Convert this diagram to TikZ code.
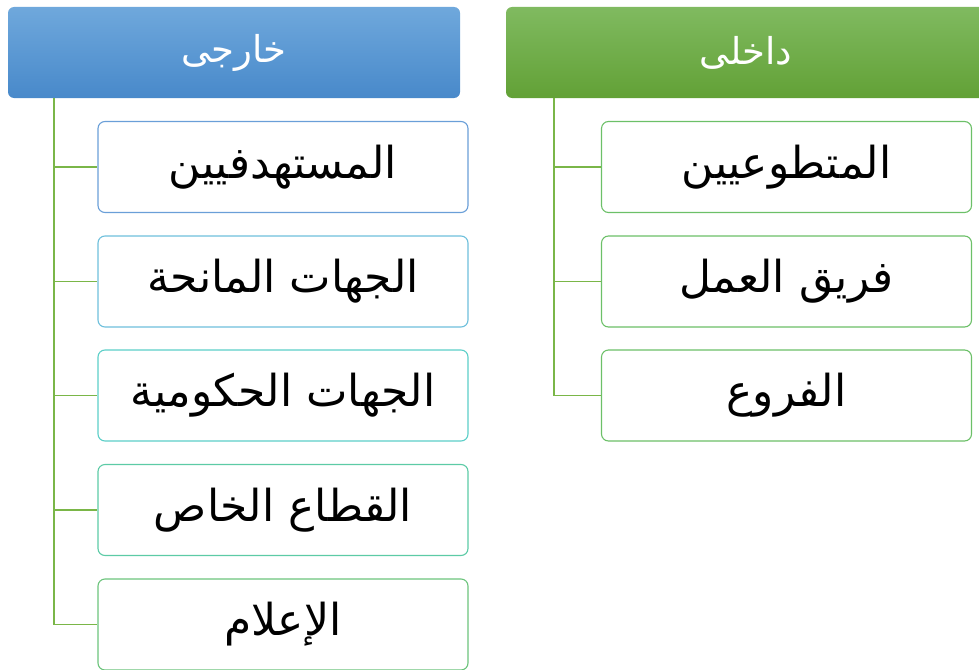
\documentclass[tikz,border=0pt]{standalone}
\usepackage{fontspec}
\newfontfamily\arabicfont[Script=Arabic]{DejaVu Sans}
\TeXXeTstate=1
\definecolor{blueTop}{HTML}{6FA8DC}
\definecolor{blueBot}{HTML}{4889CA}
\definecolor{greenTop}{HTML}{80BA60}
\definecolor{greenBot}{HTML}{62A136}
\definecolor{branchGreen}{HTML}{7AB648}
\definecolor{rimA}{HTML}{6A9FD8}
\definecolor{rimB}{HTML}{6EC0DC}
\definecolor{rimC}{HTML}{5CCFC8}
\definecolor{rimD}{HTML}{5CCBA6}
\definecolor{rimE}{HTML}{6CC47C}
\definecolor{rimF}{HTML}{6CC068}
\usetikzlibrary{positioning}

\begin{document}
\begin{tikzpicture}[x=1pt, y=-1pt,
    head/.style={rounded corners=6pt, minimum height=91pt, inner sep=0pt,
      text=white, font=\arabicfont\fontsize{37}{42}\selectfont},
    item/.style={draw, rounded corners=7pt, line width=1.1pt, fill=white,
      minimum width=370pt, minimum height=91pt, inner sep=0pt,
      font=\arabicfont\fontsize{44}{50}\selectfont},
    branch/.style={draw=branchGreen, line width=1.5pt}
  ]
  \useasboundingbox (0,0) rectangle (979,669);

  % external
  \node[head, minimum width=452pt, top color=blueTop, bottom color=blueBot]
    (ext) at (234,52.5) {\beginR خارجى\endR};
  \node[item, draw=rimA] (e1) at (283,167)   {\beginR المستهدفيين\endR};
  \node[item, draw=rimB] (e2) at (283,281.5) {\beginR الجهات المانحة\endR};
  \node[item, draw=rimC] (e3) at (283,395.5) {\beginR الجهات الحكومية\endR};
  \node[item, draw=rimD] (e4) at (283,510)   {\beginR القطاع الخاص\endR};
  \node[item, draw=rimE] (e5) at (283,624.5) {\beginR الإعلام\endR};

  % internal
  \node[head, minimum width=480pt, top color=greenTop, bottom color=greenBot]
    (int) at (746,52.5) {\beginR داخلى\endR};
  \node[item, draw=rimF] (i1) at (786.5,167)   {\beginR المتطوعيين\endR};
  \node[item, draw=rimF] (i2) at (786.5,281.5) {\beginR فريق العمل\endR};
  \node[item, draw=rimF] (i3) at (786.5,395.5) {\beginR الفروع\endR};

  \coordinate (extRoot) at (54,98);
  \coordinate (intRoot) at (554,98);

  \path[branch] (extRoot) |- (e1.west);
  \path[branch] (extRoot) |- (e2.west);
  \path[branch] (extRoot) |- (e3.west);
  \path[branch] (extRoot) |- (e4.west);
  \path[branch] (extRoot) |- (e5.west);

  \path[branch] (intRoot) |- (i1.west);
  \path[branch] (intRoot) |- (i2.west);
  \path[branch] (intRoot) |- (i3.west);
\end{tikzpicture}
\end{document}
